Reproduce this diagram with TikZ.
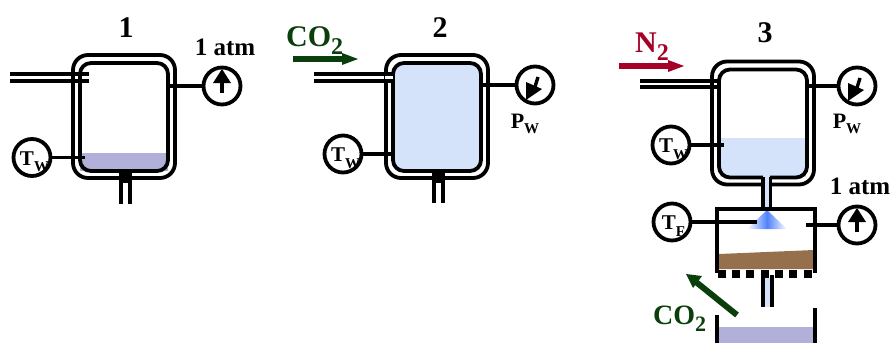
\documentclass[tikz,border=0pt]{standalone}
\usepackage{fontspec}
\setmainfont{Liberation Serif}
\newcommand{\subsc}[2]{{\fontsize{#1}{#1}\selectfont\raisebox{-0.36em}{#2}}}
\newcommand{\dialtxt}[3]{\makebox[0pt][c]{\hspace{#1pt}\raisebox{-7.5pt}[0pt][0pt]{#2{\fontsize{15}{15}\selectfont\raisebox{-6.5pt}{#3}}}}}
\definecolor{liqa}{RGB}{176,176,216}
\definecolor{liqb}{RGB}{212,226,250}
\definecolor{cogreen}{RGB}{10,62,10}
\definecolor{ntwo}{RGB}{165,0,38}
\definecolor{soil}{RGB}{150,112,76}
\definecolor{spray}{RGB}{80,130,250}
\tikzset{
  ln/.style={line width=3.8pt,black},
  wall/.style={draw=black,line width=3.8pt,rectangle,inner sep=0pt},
  outerv/.style={wall,rounded corners=15pt,minimum width=102pt,minimum height=123pt},
  innerv/.style={wall,rounded corners=11pt,minimum width=88pt,minimum height=108pt},
  dial/.style={draw=black,line width=3.8pt,circle,fill=white,minimum size=37pt,inner sep=0pt,font=\fontsize{21}{21}\selectfont\bfseries},
  lab/.style={inner sep=0pt,font=\bfseries},
  big/.style={lab,font=\fontsize{30}{30}\selectfont\bfseries},
  mid/.style={lab,font=\fontsize{25}{25}\selectfont\bfseries},
  pres/.style={lab,font=\fontsize{22}{22}\selectfont\bfseries},
  gas/.style={lab,font=\fontsize{30}{30}\selectfont\bfseries},
  gassm/.style={lab,font=\fontsize{28}{28}\selectfont\bfseries},
  flow/.style={line width=6pt}
}
\newcommand{\upneedle}[1]{%
  \fill (#1)+(0,-17)--+(9,-3)--+(-9,-3)--cycle;
  \draw[line width=3.4pt] (#1)+(0,-5)--+(0,7);}
\newcommand{\dgneedle}[1]{%
  \fill (#1)+(-9,15)--+(-9,-3)--+(7,4)--cycle;
  \draw[line width=3.4pt] (#1)+(-1,5)--+(3,-8);}
\begin{document}
\begin{tikzpicture}[x=1pt,y=-1pt]
\useasboundingbox (0,0) rectangle (893,343);
% ---------- vessel 1
\fill[liqa] (80,153) rectangle (168,171);
\node[outerv] (o1) at (124,116.5) {};
\node[innerv] (i1) at (124,117) {};
\coordinate (in1a) at (10,74); \coordinate (in1ae) at (89,74);
\coordinate (in1b) at (10,81); \coordinate (in1be) at (89,81);
\draw[ln] (in1a)--(in1ae); \draw[ln] (in1b)--(in1be);
\node[dial] (g1) at (222,86) {};
\upneedle{g1}
\coordinate (s1) at (170,86); \draw[ln] (s1)--(g1);
\node[dial] (t1) at (32,157.5) {\dialtxt{5}{T}{W}};
\coordinate (s1b) at (85,157.5); \draw[ln] (t1)--(s1b);
\fill (119,169) rectangle (132,183);
\coordinate (b1a) at (121,182); \coordinate (b1ae) at (121,204);
\coordinate (b1b) at (130,182); \coordinate (b1be) at (130,204);
\draw[ln] (b1a)--(b1ae); \draw[ln] (b1b)--(b1be);
\node[big] (n1) at (126,28) {1};
\node[mid] (a1) at (225,47) {1 atm};
% ---------- vessel 2
\node[outerv] (o2) at (437,116.5) {};
\node[innerv,fill=liqb] (i2) at (437,117) {};
\coordinate (in2a) at (314,74); \coordinate (in2ae) at (393,74);
\coordinate (in2b) at (314,81); \coordinate (in2be) at (393,81);
\fill[white] (385,75) rectangle (393,80);
\draw[ln] (in2a)--(in2ae); \draw[ln] (in2b)--(in2be);
\node[dial] (g2) at (535,85) {};
\dgneedle{g2}
\coordinate (s2) at (483,85); \draw[ln] (s2)--(g2);
\node[dial] (t2) at (343,154) {\dialtxt{5}{T}{W}};
\coordinate (s2b) at (395,154); \draw[ln] (t2)--(s2b);
\fill (432,169) rectangle (445,183);
\coordinate (b2a) at (434,182); \coordinate (b2ae) at (434,203);
\coordinate (b2b) at (443,182); \coordinate (b2be) at (443,203);
\draw[ln] (b2a)--(b2ae); \draw[ln] (b2b)--(b2be);
\node[big] (n2) at (440,28) {2};
\node[gas,text=cogreen,anchor=base west] (co2a) at (286,46) {CO\subsc{24}{2}};
\coordinate (f2a) at (293,59); \coordinate (f2b) at (358,59);
\draw[flow,cogreen] (f2a)--(346,59);
\fill[cogreen] (f2b)--(342,53)--(342,65)--cycle;
\node[pres] (p2) at (525,124) {P\subsc{15}{W}};
% ---------- vessel 3
\fill[liqb] (720,138) rectangle (806,177);
\node[outerv] (o3) at (763,123) {};
\node[innerv] (i3) at (763,123.5) {};
\coordinate (in3a) at (640,81); \coordinate (in3ae) at (719,81);
\coordinate (in3b) at (640,87); \coordinate (in3be) at (719,87);
\draw[ln] (in3a)--(in3ae); \draw[ln] (in3b)--(in3be);
\node[dial] (g3) at (857,86) {};
\dgneedle{g3}
\coordinate (s3) at (805,86); \draw[ln] (s3)--(g3);
\node[dial] (t3) at (671,145) {\dialtxt{5}{T}{W}};
\coordinate (s3b) at (724,145); \draw[ln] (t3)--(s3b);
\node[big] (n3) at (765,33) {3};
\node[gas,text=ntwo,anchor=base west] (n2a) at (635,52) {N\subsc{24}{2}};
\coordinate (f3a) at (619,66); \coordinate (f3b) at (684,66);
\draw[flow,ntwo] (f3a)--(672,66);
\fill[ntwo] (f3b)--(668,60)--(668,72)--cycle;
\node[pres] (p3) at (847,124) {P\subsc{15}{W}};
% neck
\fill[liqb] (763,174) rectangle (770,209);
\coordinate (nk1a) at (763,177); \coordinate (nk1b) at (763,210);
\coordinate (nk2a) at (770.5,177); \coordinate (nk2b) at (770.5,210);
\draw[ln] (nk1a)--(nk1b); \draw[ln] (nk2a)--(nk2b);
% chamber
\fill[soil] (719,254)--(814,250)--(814,269)--(719,269)--cycle;
\shade[left color=white,right color=white,middle color=spray] (767,210)--(787,229)--(747,229)--cycle;
\coordinate (ca) at (717,273); \coordinate (cb) at (717,209);
\coordinate (cc) at (815,209); \coordinate (cd) at (815,273);
\draw[line width=3.8pt,line join=miter] (ca)--(cb)--(cc)--(cd);
\foreach \q in {717.5,732,746,761,775,789,804} \fill (\q,270) rectangle +(8,8);
\node[dial] (tf) at (672,222) {\dialtxt{3}{T}{F}};
\coordinate (sf) at (757,222); \draw[ln] (tf)--(sf);
\node[dial] (g4) at (857,225) {};
\upneedle{g4}
\coordinate (s4) at (806,225); \draw[ln] (s4)--(g4);
\node[mid] (a4) at (860,186) {1 atm};
% lower neck
\fill[liqb] (763,278) rectangle (771,307);
\coordinate (ln1a) at (763,278); \coordinate (ln1b) at (763,307);
\coordinate (ln2a) at (772,275); \coordinate (ln2b) at (772,307);
\draw[ln] (ln1a)--(ln1b); \draw[ln] (ln2a)--(ln2b);
% lower vessel
\fill[liqa] (718,327) rectangle (814,343);
\coordinate (lva) at (717,315); \coordinate (lvb) at (717,343);
\coordinate (lvc) at (815,308); \coordinate (lvd) at (815,343);
\draw[ln] (lva)--(lvb); \draw[ln] (lvc)--(lvd);
% CO2 out
\coordinate (co3a) at (737,315); \coordinate (co3b) at (686,274);
\draw[flow,cogreen] (co3a)--(695,281.2);
\fill[cogreen] (co3b)--(702,276)--(693,288)--cycle;
\node[gassm,text=cogreen,anchor=base west] (co2b) at (653,324) {CO\subsc{22}{2}};
\end{tikzpicture}
\end{document}
